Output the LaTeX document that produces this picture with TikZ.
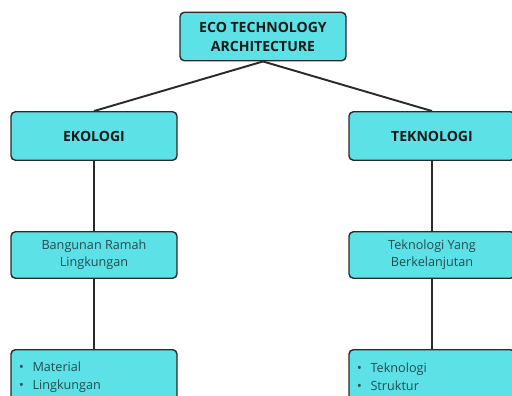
\documentclass[tikz,border=0pt]{standalone}
\usepackage{fontspec}
\setmainfont{Open Sans}
\definecolor{boxcyan}{HTML}{5CE1E6}
\definecolor{boxline}{HTML}{2A2A2A}
\definecolor{softtext}{HTML}{244C50}

\begin{document}
\begin{tikzpicture}[
    head/.style={draw=boxline, line width=0.8pt, rounded corners=2.5pt, fill=boxcyan, minimum width=3.32cm, minimum height=0.97cm, align=center, font=\bfseries\fontsize{8}{10.8}\selectfont, text=black!90},
    sub/.style={draw=boxline, line width=0.8pt, rounded corners=2.5pt, fill=boxcyan, minimum width=3.32cm, minimum height=0.93cm, align=center, font=\fontsize{7.2}{9.6}\selectfont, text=softtext},
    list/.style={draw=boxline, line width=0.8pt, rounded corners=2.5pt, fill=boxcyan, minimum width=3.32cm, minimum height=1.1cm, anchor=north, text width=3.0cm, align=left, inner ysep=1.5pt, inner xsep=3pt, font=\fontsize{7.2}{10.2}\selectfont, text=softtext},
    link/.style={draw=boxline, line width=1.1pt}
]
    \useasboundingbox (0,0) rectangle (10.24,7.9);
    \clip (0,0) rectangle (10.24,7.9);

    \node[head] (eco)       at (5.26, 7.17) {ECO TECHNOLOGY\\ARCHITECTURE};

    \node[head] (ekologi)   at (1.88, 5.18) {EKOLOGI};
    \node[head] (teknologi) at (8.64, 5.18) {TEKNOLOGI};

    \node[sub]  (bangunan)  at (1.88, 2.80) {Bangunan Ramah\\Lingkungan};
    \node[sub]  (lanjut)    at (8.64, 2.80) {Teknologi Yang\\Berkelanjutan};

    \node[list] (material)  at (1.88, 0.92) {\textbullet\hspace{5pt}Material\\\textbullet\hspace{5pt}Lingkungan};
    \node[list] (struktur)  at (8.64, 0.92) {\textbullet\hspace{5pt}Teknologi\\\textbullet\hspace{5pt}Struktur};

    \draw[link] (eco.south) -- (ekologi.north);
    \draw[link] (eco.south) -- (teknologi.north);

    \draw[link] (ekologi.south)   -- (bangunan.north);
    \draw[link] (teknologi.south) -- (lanjut.north);

    \draw[link] (bangunan.south) -- (material.north);
    \draw[link] (lanjut.south)   -- (struktur.north);
\end{tikzpicture}
\end{document}
